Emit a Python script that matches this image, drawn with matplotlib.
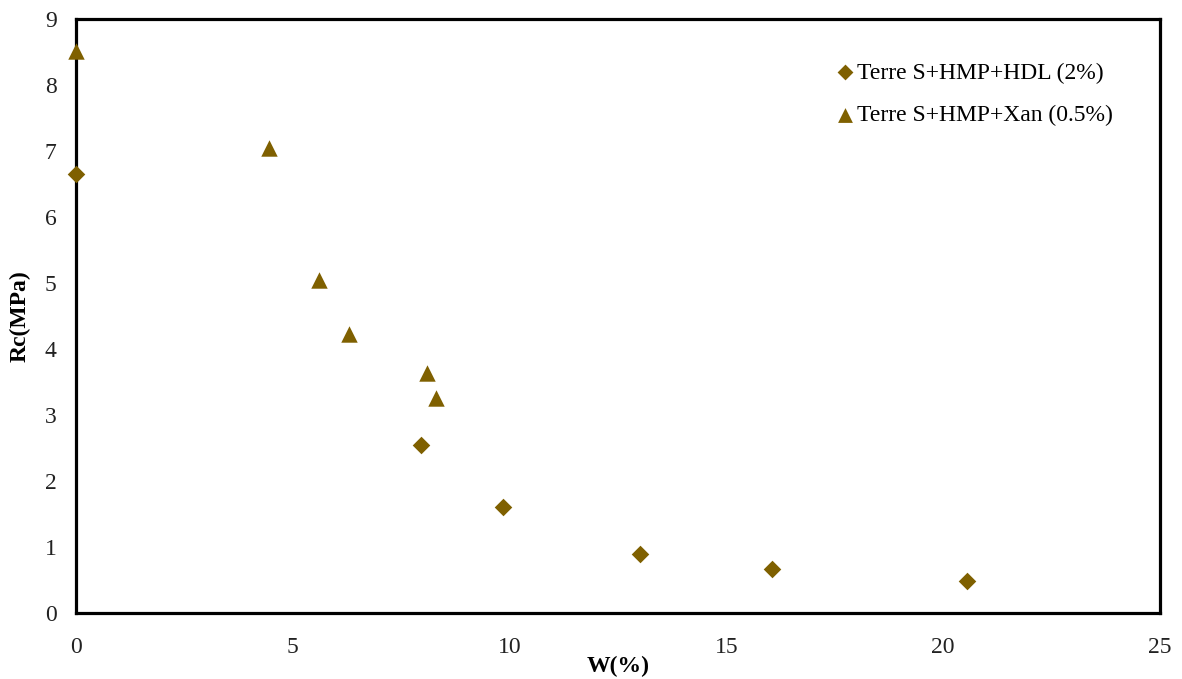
import matplotlib
matplotlib.use('Agg')
from matplotlib import pyplot as plt

# Terre S+HMP+HDL (2%)
w_hdl = [0.0, 7.95, 9.85, 13.0, 16.05, 20.55]
rc_hdl = [6.65, 2.54, 1.61, 0.89, 0.66, 0.49]

# Terre S+HMP+Xan (0.5%)
w_xan = [0.0, 4.45, 5.6, 6.3, 8.1, 8.3]
rc_xan = [8.52, 7.04, 5.05, 4.22, 3.63, 3.25]

lab_hdl = 'Terre S+HMP+HDL (2%)'
lab_xan = 'Terre S+HMP+Xan (0.5%)'

col = '#7F6000'
plt.rcParams['font.family'] = ['Liberation Serif', 'DejaVu Serif']

fig = plt.figure(figsize=(11.82, 6.79), dpi=100)
ax = fig.add_axes([0.0643, 0.0972, 0.917, 0.875])

ax.scatter(w_hdl, rc_hdl, marker='D', s=80, color=col, label=lab_hdl, clip_on=False, zorder=3, linewidths=0)
ax.scatter(w_xan, rc_xan, marker='^', s=140, color=col, label=lab_xan, clip_on=False, zorder=3, linewidths=0)

ax.set_xlim(0, 25)
ax.set_ylim(0, 9)
ax.set_xticks([0, 5, 10, 15, 20, 25])
ax.set_yticks(range(0, 10))
ax.tick_params(axis='both', length=0, labelsize=17, colors='#222222')
ax.tick_params(axis='x', pad=17)
ax.tick_params(axis='y', pad=14)
for s in ax.spines.values():
    s.set_linewidth(2.3)
    s.set_color('black')

ax.set_xlabel('W(%)', fontsize=17, fontweight='bold')
ax.xaxis.set_label_coords(0.5, -0.072)
ax.set_ylabel('Rc(MPa)', fontsize=17, fontweight='bold')
ax.yaxis.set_label_coords(-0.0415, 0.5)

leg = ax.legend(loc='upper right', bbox_to_anchor=(0.976, 0.963), frameon=False, fontsize=17,
                handletextpad=0.0, handlelength=1.0, labelspacing=0.9, markerscale=0.9)

fig.savefig('out.png', dpi=100)
